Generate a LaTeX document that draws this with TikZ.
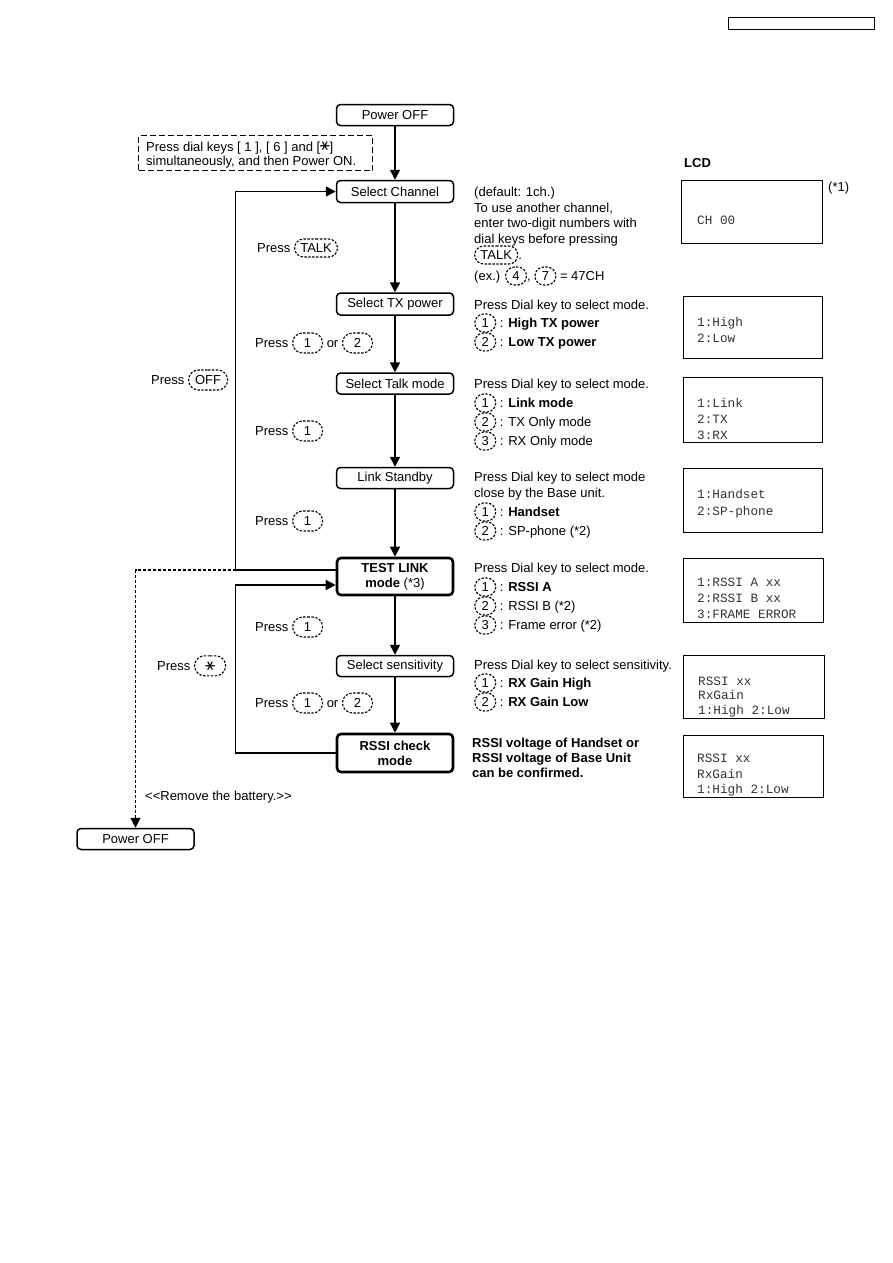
\documentclass[tikz,border=0pt]{standalone}
\usepackage{fontspec}
\usepackage{graphicx}
\setmainfont{Liberation Sans}
\newfontfamily\lcdfont{Liberation Mono}
\newfontfamily\dvfont{DejaVu Sans}
\usetikzlibrary{arrows.meta,shapes.misc,calc}
\newcommand\kk[2][]{\tikz[baseline=(kk.base)]\node[draw,dash pattern=on 2.4pt off 1.5pt,line width=1.1pt,rounded rectangle,inner xsep=2pt,inner ysep=1pt,minimum height=18pt,minimum width=25pt,anchor=center,#1](kk){#2};}
\newcommand\bk[1]{\kk[minimum width=34pt,minimum height=20pt]{#1}}
\newcommand\strk{\rotatebox[origin=c]{90}{\dvfont\fontsize{15}{15}\selectfont ∗}}
\begin{document}
\begin{tikzpicture}[x=1pt,y=-1pt,
  box/.style={draw,rounded corners=4pt,line width=1.5pt,minimum width=117pt,minimum height=21pt,inner sep=0pt,font=\fontsize{13}{15}\selectfont,align=center},
  bbox/.style={box,line width=2.6pt,minimum width=116pt},
  arr/.style={line width=1.5pt,-{Triangle[length=10pt,width=10pt]}},
  darr/.style={line width=1.2pt,dash pattern=on 3pt off 2pt,-{Triangle[length=10pt,width=10pt]}},
  txt/.style={inner sep=0pt,anchor=base west,font=\fontsize{13}{15}\selectfont},
  lcd/.style={draw,line width=1.5pt,inner sep=0pt},
  lcdtxt/.style={inner sep=0pt,anchor=base west,font=\lcdfont\fontsize{12.7}{14}\selectfont,text=black!80}]
\useasboundingbox (0,0) rectangle (893,1263);
\node[lcd,minimum width=146pt,minimum height=12pt] (hdr) at (801.5,23.5) {};

% flow boxes
\node[box] (p0) at (395,115) {Power OFF};
\node[draw,dash pattern=on 6pt off 3pt,line width=1.4pt,minimum width=234pt,minimum height=35pt,inner sep=0pt] (note) at (255.5,153) {};
\node[txt] (n1) at (146,151) {Press dial keys [ 1 ], [ 6 ] and [\strk]};
\node[txt] (n2) at (146,165) {simultaneously, and then Power ON.};
\node[box,minimum height=22pt] (sc) at (395,191.5) {Select Channel};
\node[box,minimum height=22pt] (stx) at (395,304) {Select TX power};
\node[box] (stm) at (395,383.5) {Select Talk mode};
\node[box] (ls) at (395,478) {Link Standby};
\node[bbox,minimum height=37pt] (tl) at (395,576.5) {\textbf{TEST LINK}\\\textbf{mode} (*3)};
\node[box] (ss) at (395,666) {Select sensitivity};
\node[bbox,minimum height=38pt] (rc) at (395,753) {\textbf{RSSI check}\\\textbf{mode}};
\node[box] (pb) at (135.5,839) {Power OFF};

\draw[arr] (p0.south) -- (sc.north);
\draw[arr] (sc.south) -- (stx.north);
\draw[arr] (stx.south) -- (stm.north);
\draw[arr] (stm.south) -- (ls.north);
\draw[arr] (ls.south) -- (tl.north);
\draw[arr] (tl.south) -- (ss.north);
\draw[arr] (ss.south) -- (rc.north);
\draw[arr] ($(tl.west)+(0,-6.5)$) -- ++(-100,0) |- (sc.west);
\draw[darr] ($(tl.west)+(-100,-6.5)$) -| (pb.north);
\draw[arr] (rc.west) -- ++(-100,0) |- ($(tl.west)+(0,8.5)$);

% press labels
\node[txt] (q1) at (257,252.5) {Press \kk[minimum width=47pt]{TALK}};
\node[txt] (q2) at (255,347.5) {Press \bk{1} or \bk{2}};
\node[txt] (q3) at (255,435.5) {Press \bk{1}};
\node[txt] (q4) at (255,525.5) {Press \bk{1}};
\node[txt] (q5) at (255,631.5) {Press \bk{1}};
\node[txt] (q6) at (255,707.5) {Press \bk{1} or \bk{2}};
\node[txt] (q7) at (151,384.5) {Press \kk[minimum width=43pt,minimum height=20pt]{OFF}};
\node[txt] (q8) at (157,670.5) {Press \kk[minimum width=35pt,minimum height=20pt]{\strk}};
\node[txt] (q9) at (145,800.5) {<{}<Remove the battery.>{}>};

% descriptions
\node[txt] (a1) at (474,196.5) {(default: 1ch.)};
\node[txt] (a2) at (474,212.5) {To use another channel,};
\node[txt] (a3) at (474,227.5) {enter two-digit numbers with};
\node[txt] (a4) at (474,243.5) {dial keys before pressing};
\node[txt] (a5) at (474,259.5) {\kk[minimum width=47pt]{TALK}.};
\node[txt] (a6) at (474,280.5) {(ex.) \kk{4}, \kk{7} = 47CH};

\node[txt] (b1) at (474,309.5) {Press Dial key to select mode.};
\node[txt] (b2) at (474,327.5) {\kk{1} : \textbf{High TX power}};
\node[txt] (b3) at (474,346.5) {\kk{2} : \textbf{Low TX power}};

\node[txt] (c1) at (474,388.5) {Press Dial key to select mode.};
\node[txt] (c2) at (474,407.5) {\kk{1} : \textbf{Link mode}};
\node[txt] (c3) at (474,426.5) {\kk{2} : TX Only mode};
\node[txt] (c4) at (474,445.5) {\kk{3} : RX Only mode};

\node[txt] (e1) at (474,481.5) {Press Dial key to select mode};
\node[txt] (e2) at (474,497.5) {close by the Base unit.};
\node[txt] (e3) at (474,516.5) {\kk{1} : \textbf{Handset}};
\node[txt] (e4) at (474,535.5) {\kk{2} : SP-phone (*2)};

\node[txt] (f1) at (474,572.5) {Press Dial key to select mode.};
\node[txt] (f2) at (474,591.5) {\kk{1} : \textbf{RSSI A}};
\node[txt] (f3) at (474,610.5) {\kk{2} : RSSI B (*2)};
\node[txt] (f4) at (474,629.5) {\kk{3} : Frame error (*2)};

\node[txt] (g1) at (474,669.5) {Press Dial key to select sensitivity.};
\node[txt] (g2) at (474,687.5) {\kk{1} : \textbf{RX Gain High}};
\node[txt] (g3) at (474,706.5) {\kk{2} : \textbf{RX Gain Low}};

\node[txt] (h1) at (472,747.5) {\textbf{RSSI voltage of Handset or}};
\node[txt] (h2) at (472,762.5) {\textbf{RSSI voltage of Base Unit}};
\node[txt] (h3) at (472,777.5) {\textbf{can be confirmed.}};

% LCD
\node[txt] (lcdl) at (684,167.5) {\textbf{LCD}};
\node[txt] (st1) at (828,191.5) {(*1)};
\node[lcd,minimum width=141pt,minimum height=63pt] (l1) at (752,212) {};
\node[lcdtxt] (l1a) at (697,224) {CH 00};
\node[lcd,minimum width=139pt,minimum height=62pt] (l2) at (753,327.5) {};
\node[lcdtxt] (l2a) at (697,326) {1:High};
\node[lcdtxt] (l2b) at (697,342) {2:Low};
\node[lcd,minimum width=139pt,minimum height=65pt] (l3) at (753,410) {};
\node[lcdtxt] (l3a) at (697,407) {1:Link};
\node[lcdtxt] (l3b) at (697,423) {2:TX};
\node[lcdtxt] (l3c) at (697,439) {3:RX};
\node[lcd,minimum width=139pt,minimum height=64pt] (l4) at (753,500.5) {};
\node[lcdtxt] (l4a) at (697,498) {1:Handset};
\node[lcdtxt] (l4b) at (697,515) {2:SP-phone};
\node[lcd,minimum width=140pt,minimum height=64pt] (l5) at (753.5,590.5) {};
\node[lcdtxt] (l5a) at (697,586) {1:RSSI A xx};
\node[lcdtxt] (l5b) at (697,602) {2:RSSI B xx};
\node[lcdtxt] (l5c) at (697,618) {3:FRAME ERROR};
\node[lcd,minimum width=141pt,minimum height=63pt] (l6) at (754,687) {};
\node[lcdtxt] (l6a) at (698,685) {RSSI xx};
\node[lcdtxt] (l6b) at (698,699) {RxGain};
\node[lcdtxt] (l6c) at (698,714) {1:High 2:Low};
\node[lcd,minimum width=140pt,minimum height=62pt] (l7) at (753.5,766.5) {};
\node[lcdtxt] (l7a) at (697,762) {RSSI xx};
\node[lcdtxt] (l7b) at (697,778) {RxGain};
\node[lcdtxt] (l7c) at (697,793) {1:High 2:Low};
\end{tikzpicture}
\end{document}
